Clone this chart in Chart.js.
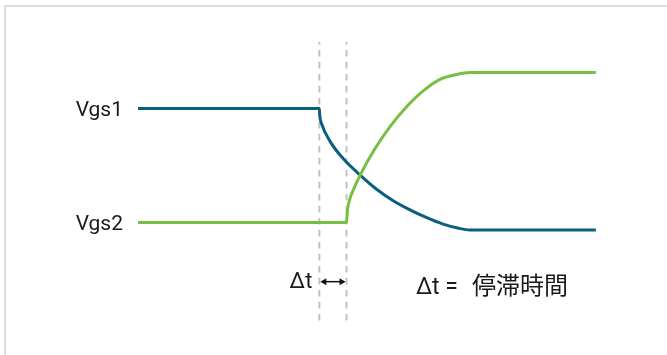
<!DOCTYPE html>
<html>
<head>
<meta charset="utf-8">
<script src="https://cdn.jsdelivr.net/npm/chart.js@4/dist/chart.umd.min.js"></script>
<style>
  html, body { margin: 0; padding: 0; background: #fff; }
  #wrap { position: relative; width: 667px; height: 355px; overflow: hidden; }
  #frame {
    position: absolute; left: 4px; top: 5px; width: 700px; height: 400px;
    border-top: 2px solid #dcdcdc; border-left: 2px solid #dcdcdc;
  }
  #chart { position: absolute; left: 0; top: 0; }
</style>
</head>
<body>
<div id="wrap">
  <div id="frame"></div>
  <canvas id="chart" width="667" height="355"></canvas>
</div>
<script>
// gate voltages over time (arbitrary units)
const levelLabels = ['Vgs1', 'Vgs2'];
const levelValues = [7.6, 0];

const vgs1Time = [0, 4.0, 4.01, 4.05, 4.24, 4.52, 4.90, 5.27, 5.63, 6.0, 6.37, 6.73, 7.10, 7.32, 10.1];
const vgs1Volt = [7.6, 7.6, 7.1, 6.58, 5.39, 4.28, 3.16, 2.20, 1.45, 0.84, 0.32, -0.11, -0.41, -0.5, -0.5];

const vgs2Time = [0, 4.6, 4.62, 4.68, 4.74, 4.90, 5.23, 5.58, 5.96, 6.29, 6.66, 7.03, 7.32, 10.1];
const vgs2Volt = [0, 0, 0.8, 1.64, 2.1, 3.16, 4.93, 6.47, 7.83, 8.77, 9.54, 9.87, 10, 10];

// dead time markers
const markerTime = [4.0, 4.6];
const markerSpan = [12.04, -6.54];
const arrowLevel = -3.95;
const deltaLabel = 'Δt';
const noteParts = ['Δt =', '停滞時間'];
const noteTime = [6.13, 7.37];
const noteLevel = -4.78;

const LATIN = 'Roboto, "Noto Sans CJK JP", sans-serif';
const CJK = '"Noto Sans CJK JP", sans-serif';

function toPoints(xs, ys) {
  return xs.map((x, i) => ({ x: x, y: ys[i] }));
}

const annotate = {
  id: 'annotate',
  afterDatasetsDraw(chart) {
    const { ctx, scales: { x, y } } = chart;
    const x1 = x.getPixelForValue(markerTime[0]);
    const x2 = x.getPixelForValue(markerTime[1]);
    const ay = y.getPixelForValue(arrowLevel);
    ctx.save();
    // double-headed arrow
    ctx.strokeStyle = '#111';
    ctx.fillStyle = '#111';
    ctx.lineWidth = 1.5;
    ctx.beginPath();
    ctx.moveTo(x1 + 3, ay);
    ctx.lineTo(x2 - 3, ay);
    ctx.stroke();
    [[x1 + 1, 1], [x2 - 1, -1]].forEach(([px, dir]) => {
      ctx.beginPath();
      ctx.moveTo(px, ay);
      ctx.lineTo(px + dir * 6, ay - 3.5);
      ctx.lineTo(px + dir * 6, ay + 3.5);
      ctx.closePath();
      ctx.fill();
    });
    ctx.fillStyle = '#1a1a1a';
    ctx.textBaseline = 'alphabetic';
    ctx.font = '22px ' + LATIN;
    ctx.textAlign = 'right';
    ctx.fillText(deltaLabel, x1 - 7, ay + 6);
    ctx.textAlign = 'left';
    const ny = y.getPixelForValue(noteLevel);
    ctx.font = '23px ' + LATIN;
    ctx.fillText(noteParts[0], x.getPixelForValue(noteTime[0]), ny);
    ctx.font = '24px ' + CJK;
    ctx.fillText(noteParts[1], x.getPixelForValue(noteTime[1]), ny);
    ctx.restore();
  }
};

const datasets = [
  {
    label: 'Vgs2',
    data: toPoints(vgs2Time, vgs2Volt),
    borderColor: '#77bf41',
    borderWidth: 3,
    cubicInterpolationMode: 'monotone'
  },
  {
    label: 'Vgs1',
    data: toPoints(vgs1Time, vgs1Volt),
    borderColor: '#0b5f7e',
    borderWidth: 3,
    cubicInterpolationMode: 'monotone'
  }
];
markerTime.forEach((t, i) => {
  datasets.push({
    label: 'marker' + i,
    data: toPoints([t, t], markerSpan),
    borderColor: '#c2c2c2',
    borderWidth: 2,
    borderDash: [6.5, 5.5],
    borderDashOffset: 3.9
  });
});

new Chart(document.getElementById('chart'), {
  type: 'line',
  data: { datasets: datasets },
  options: {
    responsive: false,
    animation: false,
    layout: { padding: { left: 0, right: 53, top: 35, bottom: 23.6 } },
    elements: { point: { radius: 0 }, line: { fill: false, borderCapStyle: 'butt' } },
    plugins: { legend: { display: false }, tooltip: { enabled: false } },
    scales: {
      x: { type: 'linear', min: 0, max: 10.5, display: false },
      y: {
        type: 'linear', min: -7, max: 12.5,
        grid: { display: false, drawTicks: false },
        border: { display: false },
        afterBuildTicks: (scale) => { scale.ticks = levelValues.map(v => ({ value: v })); },
        afterFit: (scale) => { scale.width = 138; },
        ticks: {
          padding: 15,
          labelOffset: 2,
          color: '#1a1a1a',
          font: { family: LATIN, size: 21 },
          callback: (v) => levelLabels[levelValues.indexOf(v)]
        }
      }
    }
  },
  plugins: [annotate]
});
</script>
</body>
</html>
